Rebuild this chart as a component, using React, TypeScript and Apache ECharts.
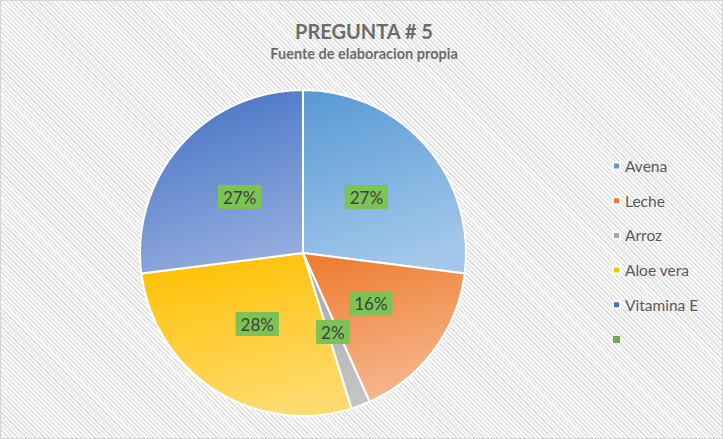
import React, { useEffect, useRef } from "react";
import * as echarts from "echarts";

const categories = ["Avena", "Leche", "Arroz", "Aloe vera", "Vitamina E", " "];
const values = [27.0, 16.3, 1.9, 27.8, 27.0, 0];
const topColors = ["#5B9BD5", "#ED7D31", "#A5A5A5", "#FFC000", "#4472C4", "#70AD47"];
const bottomColors = ["#A4C8EA", "#F6B890", "#C4C4C4", "#FFDA6E", "#94ACDE", "#A9D18E"];

export default function App() {
  const ref = useRef<HTMLDivElement>(null);
  useEffect(() => {
    document.body.style.margin = "0";
    const chart = echarts.init(ref.current!, null, { renderer: "svg" });
    const data = categories.map((name, i) => {
      const item: any = {
        name,
        value: values[i],
        itemStyle: {
          color: {
            type: "linear",
            x: 0.2,
            y: 0,
            x2: 0.5,
            y2: 1,
            colorStops: [
              { offset: 0, color: topColors[i] },
              { offset: 1, color: bottomColors[i] },
            ],
          },
        },
      };
      if (values[i] === 0) {
        item.label = { show: false };
        item.itemStyle.borderWidth = 0;
      }
      return item;
    });
    chart.setOption({
      animation: false,
      title: {
        text: "PREGUNTA # 5",
        subtext: "Fuente de elaboracion propia",
        left: 358,
        textAlign: "center",
        top: 15,
        itemGap: 5,
        textStyle: { fontFamily: "Lato", fontSize: 20, fontWeight: "bold", color: "#6b6b6b" },
        subtextStyle: { fontFamily: "Lato", fontSize: 14.5, fontWeight: "bold", color: "#6b6b6b" },
      },
      legend: {
        orient: "vertical",
        left: 606,
        top: 152,
        itemWidth: 7,
        itemHeight: 7,
        itemGap: 18.7,
        icon: "rect",
        textStyle: { fontFamily: "Lato", fontSize: 15.5, color: "#595959" },
        data: categories.map((name, i) => ({ name, itemStyle: { color: topColors[i] } })),
      },
      series: [
        {
          type: "pie",
          center: [302, 252],
          radius: 163,
          startAngle: 90,
          clockwise: true,
          data,
          itemStyle: { borderColor: "#ffffff", borderWidth: 2 },
          label: {
            show: true,
            position: "inside",
            formatter: (p: any) => Math.round(p.percent) + "%",
            fontFamily: "Lato",
            fontSize: 17,
            color: "#404040",
            backgroundColor: "#7CC356",
            padding: [4, 5, 3, 5],
          },
          labelLine: { show: false },
          emphasis: { disabled: true },
        },
      ],
    });
    return () => chart.dispose();
  }, []);
  return (
    <div
      ref={ref}
      style={{
        position: "absolute",
        left: 0,
        top: 0,
        width: 723,
        height: 439,
        boxSizing: "border-box",
        border: "1px solid #d4d4d4",
        background:
          "repeating-linear-gradient(45deg, #ffffff 0px, #ffffff 1.6px, #e2e2e2 1.6px, #e2e2e2 3.2px)",
      }}
    />
  );
}
